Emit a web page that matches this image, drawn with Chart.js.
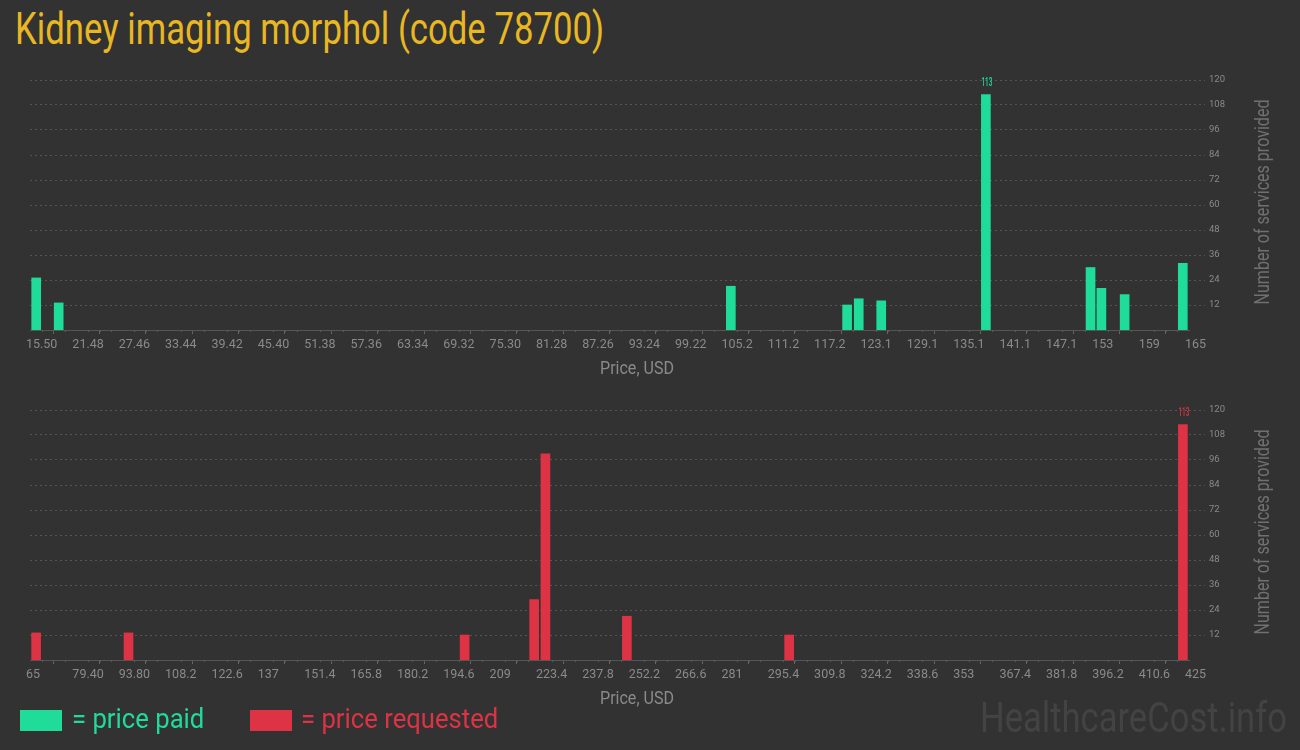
<!DOCTYPE html>
<html>
<head>
<meta charset="utf-8">
<title>Kidney imaging morphol (code 78700)</title>
<script src="https://cdn.jsdelivr.net/npm/chart.js@4.4.0/dist/chart.umd.min.js"></script>
<style>
    body { margin: 0; background: #323232; width: 1300px; height: 750px; overflow: hidden; position: relative; font-family: Roboto, sans-serif; }
    .fit { position: absolute; white-space: nowrap; transform-origin: 0 0; line-height: 1; }
    #title { left: 15px; top: 6px; font-size: 45px; color: #e9b722; }
    .box { position: absolute; left: 0; width: 1300px; height: 325px; }
    #paidBox { top: 60px; }
    #reqBox { top: 390px; }
    .sw { position: absolute; top: 710px; width: 42px; height: 21px; }
    .legend { top: 705px; font-size: 28px; }
    #watermark { left: 980px; top: 697px; font-size: 42px; color: #434343; }
</style>
</head>
<body>
<div class="fit" id="title" data-w="589">Kidney imaging morphol (code 78700)</div>
<div class="box" id="paidBox"><canvas id="paidChart"></canvas></div>
<div class="box" id="reqBox"><canvas id="reqChart"></canvas></div>
<div class="sw" style="left:20px; background:#20dc9a;"></div>
<div class="fit legend" data-w="132" style="left:72px; color:#20dc9a;">= price paid</div>
<div class="sw" style="left:250px; background:#dd3344;"></div>
<div class="fit legend" data-w="197" style="left:301px; color:#dd3344;">= price requested</div>
<div class="fit" id="watermark" data-w="307">HealthcareCost.info</div>

<script>
// Price paid (top chart)
const paidPrices = [16.3, 19.2, 105.9, 120.9, 122.4, 125.3, 138.8, 152.3, 153.7, 156.7, 164.2];
const paidCounts = [25, 13, 21, 12, 15, 14, 113, 30, 20, 17, 32];
const paidTicks = ['15.50', '21.48', '27.46', '33.44', '39.42', '45.40', '51.38', '57.36', '63.34',
    '69.32', '75.30', '81.28', '87.26', '93.24', '99.22', '105.2', '111.2', '117.2', '123.1',
    '129.1', '135.1', '141.1', '147.1', '153', '159', '165'];

// Price requested (bottom chart)
const reqPrices = [66.9, 95.6, 200.0, 221.6, 225.1, 250.4, 300.8, 423.1];
const reqCounts = [13, 13, 12, 29, 99, 21, 12, 113];
const reqTicks = ['65', '79.40', '93.80', '108.2', '122.6', '137', '151.4', '165.8', '180.2',
    '194.6', '209', '223.4', '237.8', '252.2', '266.6', '281', '295.4', '309.8', '324.2',
    '338.6', '353', '367.4', '381.8', '396.2', '410.6', '425'];

const yTicks = [12, 24, 36, 48, 60, 72, 84, 96, 108, 120];

const FONT = 'Roboto, sans-serif';
const TEXT_GREY = '#8a8a8a';

// squeeze html text to the narrow width of the original lettering
document.querySelectorAll('.fit').forEach(el => {
    const w = parseFloat(el.dataset.w);
    el.style.transform = 'scaleX(' + (w / el.offsetWidth) + ')';
});

// condensed text helper for canvas
function narrowText(ctx, text, x, y, width, rotate) {
    ctx.save();
    ctx.translate(x, y);
    if (rotate) ctx.rotate(-Math.PI / 2);
    ctx.scale(width / ctx.measureText(text).width, 1);
    ctx.fillText(text, 0, 0);
    ctx.restore();
}

// draws minor ticks, axis titles and the max value label
const decorPlugin = {
    id: 'decor',
    afterDraw(chart) {
        const ctx = chart.ctx;
        const area = chart.chartArea;
        const xs = chart.scales.x;
        const ticks = xs.ticks;
        ctx.save();

        // minor ticks, 3 per interval
        ctx.strokeStyle = '#5a5a5a';
        ctx.lineWidth = 1;
        for (let i = 0; i < ticks.length - 1; i++) {
            const a = ticks[i].value, b = ticks[i + 1].value;
            for (let k = 1; k < 4; k++) {
                const px = Math.round(xs.getPixelForValue(a + (b - a) * k / 4)) + 0.5;
                ctx.beginPath();
                ctx.moveTo(px, area.bottom);
                ctx.lineTo(px, area.bottom + 2);
                ctx.stroke();
            }
        }

        ctx.textAlign = 'center';
        ctx.textBaseline = 'middle';

        // x axis title
        ctx.fillStyle = TEXT_GREY;
        ctx.font = '18px ' + FONT;
        narrowText(ctx, 'Price, USD', 637, area.bottom + 39, 74, false);

        // y axis title, reading upward
        ctx.fillStyle = '#707070';
        ctx.font = '20px ' + FONT;
        narrowText(ctx, 'Number of services provided', 1264, (area.top + area.bottom) / 2 - 3, 205, true);
        ctx.restore();
    },
    afterDatasetsDraw(chart) {
        const ctx = chart.ctx;
        const ds = chart.data.datasets[0];
        const meta = chart.getDatasetMeta(0);
        let maxIdx = 0;
        ds.data.forEach((p, i) => { if (p.y > ds.data[maxIdx].y) maxIdx = i; });
        const bar = meta.data[maxIdx];
        ctx.save();
        ctx.fillStyle = ds.backgroundColor;
        ctx.font = '500 12px ' + FONT;
        ctx.textAlign = 'center';
        ctx.textBaseline = 'alphabetic';
        narrowText(ctx, String(ds.data[maxIdx].y), bar.x + 1, bar.y - 9, 11, false);
        ctx.restore();
    }
};

function makeChart(canvasId, prices, counts, tickLabels, color) {
    const minX = parseFloat(tickLabels[0]);
    const maxX = parseFloat(tickLabels[tickLabels.length - 1]);
    const step = (maxX - minX) / (tickLabels.length - 1);
    const points = prices.map((p, i) => ({ x: p, y: counts[i] }));

    return new Chart(document.getElementById(canvasId), {
        type: 'bar',
        data: {
            datasets: [{
                data: points,
                backgroundColor: color,
                borderWidth: 0,
                barThickness: 9
            }]
        },
        options: {
            responsive: true,
            maintainAspectRatio: false,
            animation: false,
            layout: { padding: { left: 30, right: 0, top: 20, bottom: 0 } },
            plugins: {
                legend: { display: false },
                tooltip: { enabled: false }
            },
            scales: {
                x: {
                    type: 'linear',
                    min: minX,
                    max: maxX,
                    offset: false,
                    afterBuildTicks: (scale) => {
                        scale.ticks = tickLabels.map((t, i) => ({ value: minX + step * i }));
                    },
                    afterFit: (scale) => { scale.height = 55; },
                    grid: {
                        display: true,
                        drawOnChartArea: false,
                        drawTicks: true,
                        tickLength: 4,
                        tickColor: '#666'
                    },
                    border: { display: true, color: '#555', width: 1 },
                    ticks: {
                        autoSkip: false,
                        maxRotation: 0,
                        align: 'start',
                        labelOffset: -4,
                        padding: 3,
                        color: TEXT_GREY,
                        font: { family: FONT, size: 12.5 },
                        callback: (v, i) => tickLabels[i]
                    }
                },
                y: {
                    position: 'right',
                    min: 0,
                    max: 120,
                    afterBuildTicks: (scale) => {
                        scale.ticks = yTicks.map(v => ({ value: v }));
                    },
                    afterFit: (scale) => { scale.width = 111; },
                    grid: {
                        color: '#555',
                        tickLength: 16,
                        tickColor: '#555',
                        tickBorderDash: [2, 3]
                    },
                    border: { display: false, dash: [2, 3] },
                    ticks: {
                        padding: 4,
                        color: TEXT_GREY,
                        font: { family: FONT, size: 9.5 }
                    }
                }
            }
        },
        plugins: [decorPlugin]
    });
}

makeChart('paidChart', paidPrices, paidCounts, paidTicks, '#20dc9a');
makeChart('reqChart', reqPrices, reqCounts, reqTicks, '#dd3344');
</script>
</body>
</html>
